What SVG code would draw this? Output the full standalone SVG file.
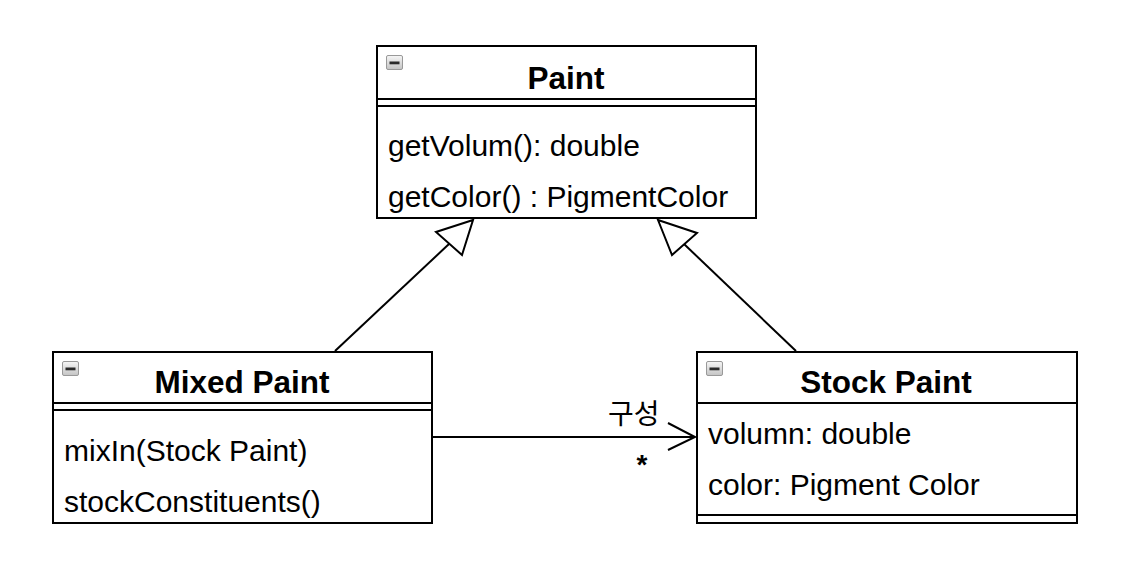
<svg xmlns="http://www.w3.org/2000/svg" width="1124" height="582" viewBox="0 0 1124 582">
<defs>
<linearGradient id="ig" x1="0" y1="0" x2="0" y2="1">
<stop offset="0" stop-color="#f6f6f6"/>
<stop offset="1" stop-color="#c4c4c4"/>
</linearGradient>
<g id="icon">
<rect x="0.5" y="0.5" width="16" height="14" rx="1.5" fill="url(#ig)" stroke="#999" stroke-width="1"/>
<rect x="3.5" y="6.5" width="10" height="2.8" fill="#2a2a2a"/>
</g>
</defs>
<style>
.box{fill:#fff;stroke:#000;stroke-width:2}
.ln{stroke:#000;stroke-width:2;fill:none}
.title{font-family:"Liberation Sans",Arial,sans-serif;font-size:31.5px;font-weight:bold;fill:#000}
.txt{font-family:"Liberation Sans",Arial,sans-serif;font-size:30px;fill:#000}
.lbl{font-family:"Noto Sans CJK KR","Liberation Sans",sans-serif;font-size:28px;fill:#000}
.star{font-family:"Liberation Sans",Arial,sans-serif;font-size:28px;font-weight:bold;fill:#000}
</style>
<rect width="1124" height="582" fill="#fff"/>

<g id="connectors">
<line class="ln" x1="335" y1="351" x2="449" y2="244"/>
<polygon class="ln" points="473,220 436,232 462,255" fill="#fff"/>
<line class="ln" x1="796" y1="351" x2="684" y2="244"/>
<polygon class="ln" points="658,220 697,233 672,255" fill="#fff"/>
<line class="ln" x1="432" y1="437" x2="695" y2="437"/>
<polyline class="ln" points="668,423 695,437 668,450"/>
<text class="lbl" x="608" y="424">구성</text>
<text class="star" x="642" y="474" text-anchor="middle">*</text>
</g>

<g id="paint">
<rect class="box" x="377" y="46" width="379" height="172"/>
<line class="ln" x1="377" y1="99" x2="756" y2="99"/>
<line class="ln" x1="377" y1="106" x2="756" y2="106"/>
<use href="#icon" x="386" y="55"/>
<text class="title" x="566" y="89" text-anchor="middle">Paint</text>
<text class="txt" x="388" y="156">getVolum(): double</text>
<text class="txt" x="388" y="207">getColor() : PigmentColor</text>
</g>

<g id="mixed-paint">
<rect class="box" x="53" y="352" width="379" height="171"/>
<line class="ln" x1="53" y1="403" x2="432" y2="403"/>
<line class="ln" x1="53" y1="410" x2="432" y2="410"/>
<use href="#icon" x="62" y="361"/>
<text class="title" x="242" y="393" text-anchor="middle">Mixed Paint</text>
<text class="txt" x="64" y="461">mixIn(Stock Paint)</text>
<text class="txt" x="64" y="512">stockConstituents()</text>
</g>

<g id="stock-paint">
<rect class="box" x="697" y="352" width="380" height="171"/>
<line class="ln" x1="697" y1="403" x2="1077" y2="403"/>
<line class="ln" x1="697" y1="515" x2="1077" y2="515"/>
<use href="#icon" x="706" y="361"/>
<text class="title" x="886" y="393" text-anchor="middle">Stock Paint</text>
<text class="txt" x="708" y="444">volumn: double</text>
<text class="txt" x="708" y="495">color: Pigment Color</text>
</g>
</svg>
